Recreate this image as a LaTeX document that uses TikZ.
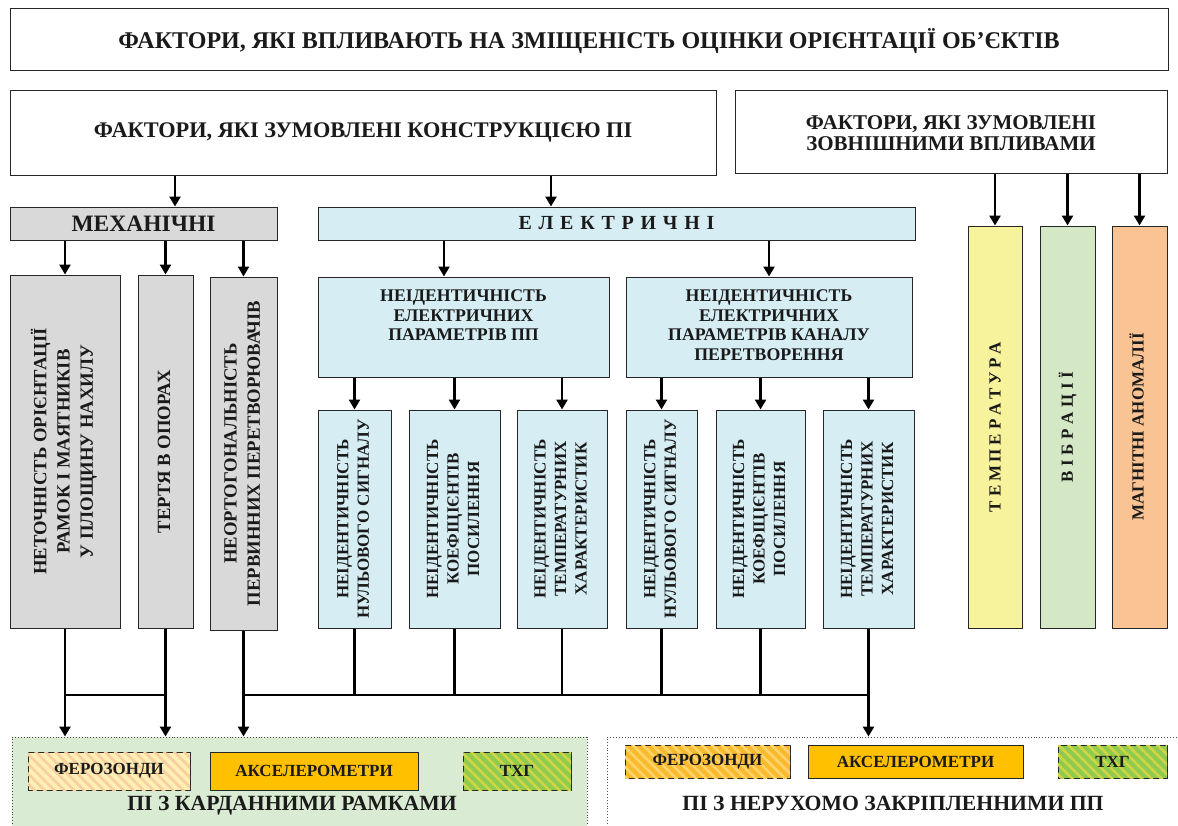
\documentclass[tikz,border=0pt]{standalone}
\usepackage{fontspec}
\setmainfont{Liberation Serif}
\usepackage{graphicx}
\usetikzlibrary{arrows.meta,patterns.meta,calc}
\definecolor{cgray}{HTML}{D9D9D9}
\definecolor{cblue}{HTML}{D5EDF3}
\definecolor{cyel}{HTML}{F7F39C}
\definecolor{cgrn}{HTML}{D5E8C6}
\definecolor{corg}{HTML}{FAC394}
\definecolor{cframe}{HTML}{D9EBD2}
\definecolor{cacc}{HTML}{FFC000}
\definecolor{ctxg}{HTML}{8FCB4E}
\definecolor{ctxgs}{HTML}{CFD545}
\definecolor{cfl}{HTML}{FFEFB5}
\definecolor{cfls}{HTML}{F8CFA0}
\definecolor{cfr}{HTML}{F9BA2E}
\definecolor{cfrs}{HTML}{FFD56A}
\definecolor{ctext}{HTML}{1A1A1A}
\newcommand\ft[2]{\fontsize{#1}{#2}\selectfont\bfseries}
\newcommand\bx[7]{\node[box,#6,minimum width={#4-#2},minimum height={#5-#3}] (#1) at ({(#2+#4)/2},{(#3+#5)/2}) {#7};}
\newcommand\tx[1]{\begin{tabular}{@{}c@{}}#1\end{tabular}}
\newcommand\vtx[1]{\rotatebox{90}{\tx{#1}}}
\newcommand\shiftdown[2]{\raisebox{-#1}[\height][\depth]{#2}}
\begin{document}
\begin{tikzpicture}[x=1pt,y=-1pt,
  box/.style={draw=black!85,line width=1pt,inner sep=0pt,align=center,text=ctext},
  frame/.style={draw=black!70,line width=0.9pt,dotted,inner sep=0pt},
  arr/.style={line width=2.8pt,-{Triangle[width=11pt,length=10pt]}},
  ln/.style={line width=2.8pt},
  lbl/.style={inner sep=0pt,text=ctext,font=\ft{21.7}{24}},
  hatch/.style={postaction={pattern={Lines[angle=-45,distance=7pt,line width=2.6pt]},pattern color=#1}}
]
\useasboundingbox (0,0) rectangle (1178,825);
\fill[white] (0,0) rectangle (1178,825);
% top boxes
\bx{title}{10}{8}{1168}{70}{font=\ft{24}{26}}{\shiftdown{2pt}{ФАКТОРИ, ЯКІ ВПЛИВАЮТЬ НА ЗМІЩЕНІСТЬ ОЦІНКИ ОРІЄНТАЦІЇ ОБ’ЄКТІВ}}
\bx{constr}{10}{90}{716}{175}{font=\ft{22.3}{24}}{ФАКТОРИ, ЯКІ ЗУМОВЛЕНІ КОНСТРУКЦІЄЮ ПІ}
\bx{ext}{735}{90}{1167}{173}{font=\ft{21}{21.5}}{\shiftdown{4pt}{\tx{ФАКТОРИ, ЯКІ ЗУМОВЛЕНІ\\ЗОВНІШНИМИ ВПЛИВАМИ}}}
\bx{mech}{10}{207}{277}{240}{fill=cgray,font=\ft{23.5}{24}}{МЕХАНІЧНІ}
\bx{elec}{318}{207}{915}{240}{fill=cblue,font=\ft{20}{22}}{\makebox[196pt][s]{Е Л Е К Т Р И Ч Н І}}
% mechanical
\bx{g1}{10}{275}{120}{628}{fill=cgray,font=\ft{18.7}{23.3}}{\vtx{НЕТОЧНІСТЬ ОРІЄНТАЦІЇ\\РАМОК І МАЯТНИКІВ\\У ПЛОЩИНУ НАХИЛУ}}
\bx{g2}{138}{275}{193}{628}{fill=cgray,font=\ft{18.7}{23.3}}{\vtx{ТЕРТЯ В ОПОРАХ}}
\bx{g3}{210}{277}{277}{630}{fill=cgray,font=\ft{18.7}{23.3}}{\vtx{НЕОРТОГОНАЛЬНІСТЬ\\ПЕРВИННИХ ПЕРЕТВОРЮВАЧІВ}}
% electrical
\bx{ml}{318}{277}{609}{377}{fill=cblue,font=\ft{17.8}{19.5}}{\tx{НЕІДЕНТИЧНІСТЬ\\ЕЛЕКТРИЧНИХ\\ПАРАМЕТРІВ ПП\\~}}
\bx{mr}{626}{277}{912}{377}{fill=cblue,font=\ft{17.8}{19.5}}{\tx{НЕІДЕНТИЧНІСТЬ\\ЕЛЕКТРИЧНИХ\\ПАРАМЕТРІВ КАНАЛУ\\ПЕРЕТВОРЕННЯ}}
\bx{s1}{318}{410}{391}{628}{fill=cblue,font=\ft{17}{20.5}}{\vtx{НЕІДЕНТИЧНІСТЬ\\НУЛЬОВОГО СИГНАЛУ}}
\bx{s2}{409}{410}{500}{628}{fill=cblue,font=\ft{17}{20.5}}{\vtx{НЕІДЕНТИЧНІСТЬ\\КОЕФІЦІЄНТІВ\\ПОСИЛЕННЯ}}
\bx{s3}{517}{410}{607}{628}{fill=cblue,font=\ft{17}{20.5}}{\vtx{НЕІДЕНТИЧНІСТЬ\\ТЕМПЕРАТУРНИХ\\ХАРАКТЕРИСТИК}}
\bx{s4}{626}{410}{697}{628}{fill=cblue,font=\ft{17}{20.5}}{\vtx{НЕІДЕНТИЧНІСТЬ\\НУЛЬОВОГО СИГНАЛУ}}
\bx{s5}{716}{410}{805}{628}{fill=cblue,font=\ft{17}{20.5}}{\vtx{НЕІДЕНТИЧНІСТЬ\\КОЕФІЦІЄНТІВ\\ПОСИЛЕННЯ}}
\bx{s6}{823}{410}{914}{628}{fill=cblue,font=\ft{17}{20.5}}{\vtx{НЕІДЕНТИЧНІСТЬ\\ТЕМПЕРАТУРНИХ\\ХАРАКТЕРИСТИК}}
% external
\bx{r1}{968}{226}{1022}{628}{fill=cyel,font=\ft{17}{20}}{\rotatebox{90}{\makebox[170pt][s]{Т Е М П Е Р А Т У Р А}}}
\bx{r2}{1040}{226}{1095}{628}{fill=cgrn,font=\ft{17}{20}}{\rotatebox{90}{\makebox[110pt][s]{В І Б Р А Ц І Ї}}}
\bx{r3}{1112}{226}{1167}{628}{fill=corg,font=\ft{17}{20}}{\vtx{МАГНІТНІ АНОМАЛІЇ}}
% bottom frames
\bx{lf}{12}{737}{587}{832}{frame,fill=cframe}{}
\bx{rf}{607}{737}{1185}{832}{frame,fill=white}{}
\bx{lb1}{28}{752}{190}{790}{fill=cfl,hatch=cfls,font=\ft{17}{19}}{ФЕРОЗОНДИ}
\bx{lb2}{210}{752}{418}{790}{fill=cacc,font=\ft{17}{19}}{АКСЕЛЕРОМЕТРИ}
\bx{lb3}{463}{752}{571}{790}{fill=ctxg,hatch=ctxgs,font=\ft{17}{19}}{ТХГ}
\bx{rb1}{625}{745}{790}{778}{fill=cfr,hatch=cfrs,font=\ft{17}{19}}{ФЕРОЗОНДИ}
\bx{rb2}{808}{745}{1023}{778}{fill=cacc,font=\ft{17}{19}}{АКСЕЛЕРОМЕТРИ}
\bx{rb3}{1058}{745}{1167}{778}{fill=ctxg,hatch=ctxgs,font=\ft{17}{19}}{ТХГ}
\node[lbl] (lt) at (292,806) {ПІ З КАРДАННИМИ РАМКАМИ};
\node[lbl] (rt) at (893,803) {ПІ З НЕРУХОМО ЗАКРІПЛЕННИМИ ПП};
% connectors top
\draw[arr] (constr.south -| 175,0) -- (mech.north -| 175,0);
\draw[arr] (constr.south -| 551,0) -- (elec.north -| 551,0);
\foreach \n in {r1,r2,r3} \draw[arr] (ext.south -| \n.north) -- (\n.north);
\foreach \n in {g1,g2,g3} \draw[arr] (mech.south -| \n.north) -- (\n.north);
\draw[arr] (elec.south -| 444,0) -- (ml.north -| 444,0);
\draw[arr] (elec.south -| mr.north) -- (mr.north);
\foreach \n in {s1,s2,s3} \draw[arr] (ml.south -| \n.north) -- (\n.north);
\foreach \n in {s4,s5,s6} \draw[arr] (mr.south -| \n.north) -- (\n.north);
% connectors bottom
\coordinate (busl) at (0,695);
\draw[ln] (g1.south |- busl) -- (g2.south |- busl);
\draw[ln] (g3.south |- busl) -- (s6.south |- busl);
\foreach \n in {g1,g2,g3} \draw[arr] (\n.south) -- (lf.north -| \n.south);
\foreach \n in {s1,s2,s3,s4,s5} \draw[ln] (\n.south) -- (\n.south |- busl);
\draw[arr] (s6.south) -- (rf.north -| s6.south);
\end{tikzpicture}
\end{document}
